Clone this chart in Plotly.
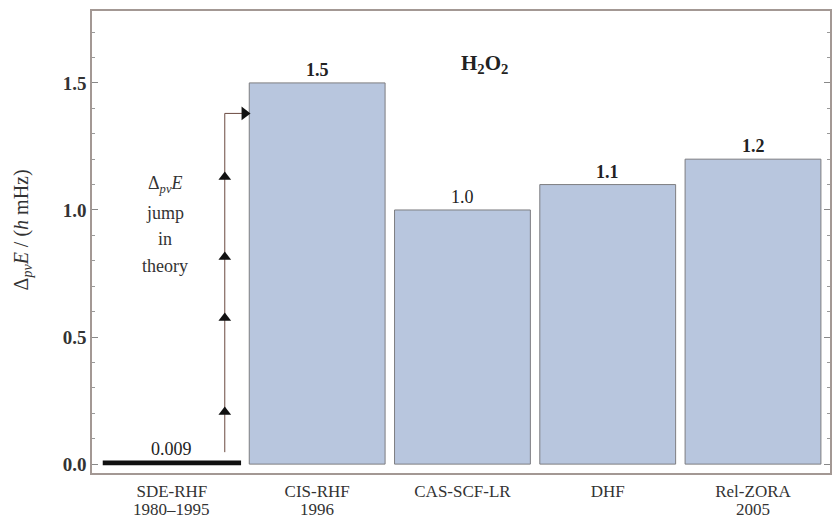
import plotly.graph_objects as go

methods = ["SDE-RHF", "CIS-RHF", "CAS-SCF-LR", "DHF", "Rel-ZORA"]
years = ["1980–1995", "1996", "", "", "2005"]
values = [0.009, 1.5, 1.0, 1.1, 1.2]
value_labels = ["0.009", "1.5", "1.0", "1.1", "1.2"]
label_bold = [False, True, False, True, True]
bar_colors = ["#111111", "#b8c6de", "#b8c6de", "#b8c6de", "#b8c6de"]
line_colors = ["#111111", "#7d7d80", "#7d7d80", "#7d7d80", "#7d7d80"]
line_widths = [2.5, 1, 1, 1, 1]

# "jump in theory" arrow path (data units)
arrow_x = [0.364, 0.364, 0.50]
arrow_y = [0.047, 1.38, 1.38]
head_y = [0.205, 0.575, 0.815, 1.13]
note_lines = ["Δ<sub><i>pv</i></sub><i>E</i>", "jump", "in", "theory"]
note_y = [1.10, 0.99, 0.885, 0.78]

FONT = "Liberation Serif"
idx = list(range(len(methods)))

fig = go.Figure()
fig.add_trace(go.Bar(
    x=idx, y=values, width=0.935,
    marker=dict(color=bar_colors, line=dict(color=line_colors, width=line_widths)),
    showlegend=False, hoverinfo="skip",
))
fig.add_trace(go.Scatter(
    x=arrow_x, y=arrow_y, mode="lines",
    line=dict(color="#6b4a40", width=1), showlegend=False, hoverinfo="skip",
))
fig.add_trace(go.Scatter(
    x=[arrow_x[0]] * len(head_y), y=head_y, mode="markers",
    marker=dict(symbol="triangle-up", size=11, color="#111111"),
    showlegend=False, hoverinfo="skip",
))
fig.add_trace(go.Scatter(
    x=[arrow_x[-1]], y=[arrow_y[-1]], mode="markers",
    marker=dict(symbol="triangle-right", size=12, color="#111111"),
    showlegend=False, hoverinfo="skip",
))

for i, (v, t, b) in enumerate(zip(values, value_labels, label_bold)):
    fig.add_annotation(x=i, y=v, text=f"<b>{t}</b>" if b else t, showarrow=False,
                       yanchor="bottom", yshift=1,
                       font=dict(family=FONT, size=18, color="#222222"))

for i, yr in enumerate(years):
    if yr:
        fig.add_annotation(x=i, y=0, yref="paper", text=yr, showarrow=False,
                           yanchor="middle", yshift=-36,
                           font=dict(family=FONT, size=17, color="#333333"))

fig.add_annotation(x=2.15, y=1.575, text="<b>H<sub>2</sub>O<sub>2</sub></b>", showarrow=False,
                   font=dict(family=FONT, size=21, color="#222222"))
for t, yv in zip(note_lines, note_y):
    fig.add_annotation(x=-0.05, y=yv, text=t, showarrow=False,
                       font=dict(family=FONT, size=18, color="#333333"))

# y-axis title
fig.add_annotation(x=0, xref="paper", y=0.525, yref="paper", xshift=-70,
                   text="Δ<sub><i>pv</i></sub><i>E</i> / (<i>h</i> mHz)", textangle=-90,
                   showarrow=False, xanchor="center", yanchor="middle",
                   font=dict(family=FONT, size=20, color="#333333"))

frame = "#a39894"
fig.update_layout(
    width=834, height=520,
    margin=dict(l=92, r=2, t=11, b=47),
    paper_bgcolor="white", plot_bgcolor="white",
    font=dict(family=FONT, color="#222222"),
    bargap=0.065,
)
fig.update_xaxes(
    range=[-0.55, 4.53], tickmode="array", tickvals=idx, ticktext=methods,
    ticks="", showgrid=False, zeroline=False, ticklabelstandoff=2,
    showline=True, linecolor=frame, linewidth=1.5, mirror=True,
    tickfont=dict(family=FONT, size=17, color="#333333"),
)
fig.update_yaxes(
    range=[-0.035, 1.783], tickmode="array", tickvals=[0, 0.5, 1.0, 1.5],
    ticktext=["<b>0.0</b>", "<b>0.5</b>", "<b>1.0</b>", "<b>1.5</b>"],
    ticks="inside", ticklen=6, tickcolor="#888888",
    minor=dict(tickmode="linear", tick0=0, dtick=0.1, ticks="inside", ticklen=3, tickcolor="#999999"),
    showgrid=False, zeroline=False,
    showline=True, linecolor=frame, linewidth=1.5, mirror="allticks",
    tickfont=dict(family=FONT, size=19, color="#333333"),
)

fig.write_html("out.html", config={"displayModeBar": False},
               post_script="document.body.style.margin='0';document.body.style.overflow='hidden';")
